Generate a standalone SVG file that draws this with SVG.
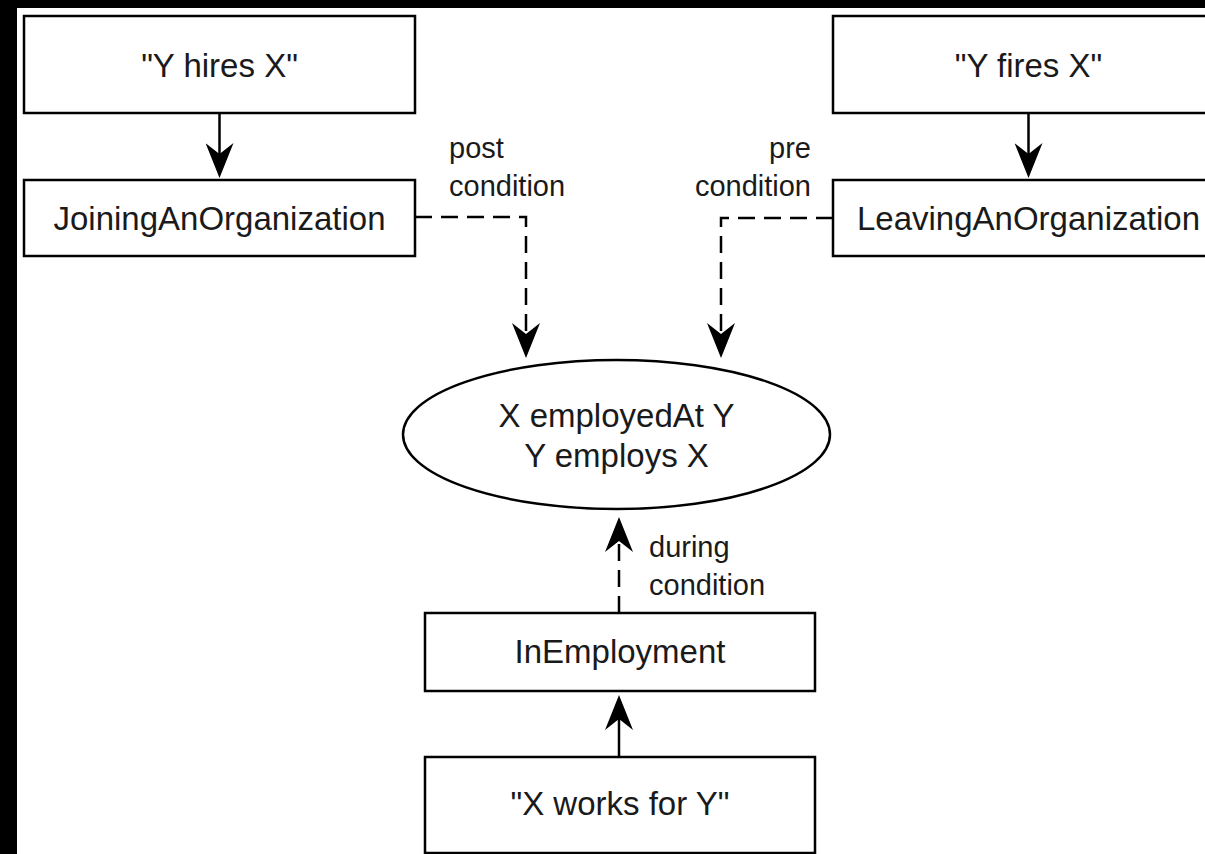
<svg xmlns="http://www.w3.org/2000/svg" width="1205" height="854" viewBox="0 0 1205 854">
<style>
.box{fill:#fff;stroke:#000;stroke-width:2.5}
.t{font-family:"Liberation Sans",Arial,sans-serif;font-size:33px;fill:#1a1a1a;text-anchor:middle}
.lbl{font-family:"Liberation Sans",Arial,sans-serif;font-size:29px;fill:#1a1a1a}
.edge{fill:none;stroke:#000;stroke-width:2.5}
.dash{stroke-dasharray:17 9}
</style>
<defs>
<marker id="arr" markerUnits="userSpaceOnUse" viewBox="0 0 36 28" markerWidth="36" markerHeight="28" refX="25" refY="14" orient="auto">
<path d="M35,14 L0,0 L11,14 L0,28 Z" fill="#000"/>
</marker>
</defs>
<rect x="0" y="0" width="1205" height="854" fill="#000"/>
<rect x="17" y="8" width="1188" height="846" fill="#fff"/>
<g id="connectors">
<path class="edge" d="M219.5,113 V168" marker-end="url(#arr)"/>
<path class="edge" d="M1028.5,113 V168" marker-end="url(#arr)"/>
<path class="edge dash" d="M415,217 H526 V348" marker-end="url(#arr)"/>
<path class="edge dash" d="M833,218 H721 V348" marker-end="url(#arr)"/>
<path class="edge dash" d="M619,613 V527" marker-end="url(#arr)"/>
<path class="edge" d="M619,757 V705" marker-end="url(#arr)"/>
<text class="lbl" x="449" y="158">post</text>
<text class="lbl" x="449" y="196">condition</text>
<text class="lbl" x="811" y="158" text-anchor="end">pre</text>
<text class="lbl" x="811" y="196" text-anchor="end">condition</text>
<text class="lbl" x="649" y="557">during</text>
<text class="lbl" x="649" y="595">condition</text>
</g>
<g id="hires">
<rect class="box" x="24" y="16" width="391" height="97"/>
<text class="t" x="219.5" y="77">"Y hires X"</text>
</g>
<g id="joining">
<rect class="box" x="24" y="180" width="391" height="76"/>
<text class="t" x="219.5" y="230">JoiningAnOrganization</text>
</g>
<g id="fires">
<rect class="box" x="833" y="16" width="391" height="97"/>
<text class="t" x="1028.5" y="77">"Y fires X"</text>
</g>
<g id="leaving">
<rect class="box" x="833" y="180" width="391" height="76"/>
<text class="t" x="1028.5" y="230">LeavingAnOrganization</text>
</g>
<g id="employed">
<ellipse class="box" cx="616.5" cy="434.5" rx="213.5" ry="74.5"/>
<text class="t" x="616.5" y="427">X employedAt Y</text>
<text class="t" x="616.5" y="467">Y employs X</text>
</g>
<g id="inemployment">
<rect class="box" x="425" y="613" width="390" height="78"/>
<text class="t" x="620" y="663">InEmployment</text>
</g>
<g id="worksfor">
<rect class="box" x="425" y="757" width="390" height="96"/>
<text class="t" x="620" y="815">"X works for Y"</text>
</g>
</svg>
